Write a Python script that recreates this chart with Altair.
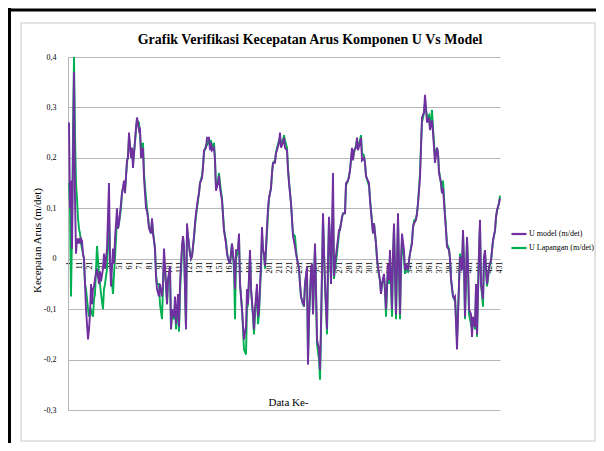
import altair as alt
import pandas as pd

idx = [1,2,3,4,5,6,7,8,9,10,11,12,13,14,15,16,17,18,19,20,21,22,23,24,25,26,27,29,31,32,33,35,36,37,39,41,42,43,45,46,47,49,50,51,53,54,56,57,59,60,61,63,64,65,67,68,69,71,72,73,75,76,78,79,80,81,83,84,85,87,88,89,91,92,94,95,96,98,99,100,102,103,104,106,107,108,110,111,112,114,115,116,118,119,120,122,123,124,126,127,128,130,131,132,134,135,136,138,139,141,142,143,144,146,147,148,150,151,152,154,155,156,158,159,160,162,163,164,166,167,168,170,171,172,174,175,176,178,179,180,182,183,185,186,187,189,190,191,193,194,195,196,197,199,200,201,203,204,205,207,208,209,211,212,213,215,216,217,219,220,221,223,224,225,227,228,229,231,232,233,235,236,237,239,240,241,243,244,245,247,248,249,251,252,253,255,256,257,259,260,261,262,263,265,266,267,269,270,271,272,274,275,277,278,280,281,282,284,285,286,288,289,290,292,293,294,296,297,298,300,301,302,304,305,306,308,309,310,312,313,314,316,317,318,320,321,322,324,325,326,328,329,330,332,333,334,336,337,338,340,341,342,344,345,346,348,349,350,352,353,354,356,357,358,359,361,362,364,365,366,367,369,370,371,373,374,375,377,378,379,381,382,383,385,386,387,389,391,392,394,395,396,397,399,400,401,403,404,405,407,408,409,411,412,413,415,416,417,419,420,421,423,424,425,427,428,429,431,432]

u_model = [0.27,0.10,0.155,0.02,0.20,0.37,0.12,0.01,0.04,0.03,0.04,0.03,0.04,0.035,0.01,0.0,-0.05,-0.10,-0.13,-0.16,-0.14,-0.11,-0.05,-0.09,-0.06,-0.055,-0.04,-0.02,-0.05,-0.025,-0.045,-0.02,0.01,-0.02,0.02,0.15,0.0,-0.055,0.02,-0.01,0.04,0.10,0.06,0.07,0.11,0.13,0.155,0.13,0.195,0.20,0.25,0.20,0.22,0.18,0.235,0.26,0.28,0.255,0.26,0.20,0.22,0.16,0.10,0.095,0.08,0.06,0.05,0.08,0.05,0.02,-0.035,-0.06,-0.075,-0.05,-0.075,-0.05,0.02,-0.05,-0.09,-0.04,-0.015,-0.14,-0.10,-0.115,-0.075,-0.13,-0.07,-0.135,-0.05,0.025,0.045,0.025,-0.14,0.07,0.045,0.01,0.0,0.005,0.045,0.07,0.09,0.12,0.13,0.15,0.16,0.18,0.215,0.22,0.24,0.24,0.215,0.23,0.215,0.22,0.195,0.135,0.15,0.165,0.14,0.115,0.085,0.055,0.03,0.01,0.0,-0.01,0.01,0.03,-0.01,-0.06,0.017,0.017,0.05,-0.05,-0.10,-0.13,-0.16,-0.135,-0.06,-0.09,0.017,-0.06,-0.11,-0.14,-0.10,-0.05,-0.115,-0.10,-0.01,0.063,0.017,0.01,-0.015,0.063,0.10,0.12,0.14,0.17,0.19,0.19,0.21,0.215,0.23,0.25,0.22,0.23,0.24,0.22,0.215,0.175,0.15,0.11,0.077,0.045,0.024,0.01,0.0,-0.02,-0.05,-0.075,-0.09,-0.092,-0.05,-0.016,-0.21,-0.115,-0.023,-0.01,-0.11,0.03,-0.06,-0.16,-0.18,-0.22,-0.13,0.09,0.017,-0.05,-0.14,-0.01,0.083,0.04,-0.05,0.17,-0.035,-0.01,0.024,0.04,0.057,0.057,0.083,0.09,0.09,0.15,0.155,0.162,0.175,0.22,0.195,0.215,0.22,0.24,0.215,0.23,0.24,0.195,0.2,0.19,0.163,0.155,0.15,0.115,0.07,0.05,0.07,0.03,0.0,-0.016,-0.043,-0.07,-0.05,-0.03,-0.062,-0.10,-0.01,-0.043,0.017,-0.10,0.01,0.07,-0.11,-0.01,0.09,-0.11,-0.01,0.05,0.017,-0.023,-0.01,-0.023,-0.003,0.01,0.03,0.063,0.07,0.077,0.09,0.11,0.16,0.22,0.28,0.29,0.325,0.30,0.27,0.28,0.255,0.275,0.25,0.22,0.19,0.22,0.21,0.17,0.15,0.13,0.14,0.083,0.057,0.024,0.017,0.0,-0.04,-0.075,-0.078,-0.075,-0.18,-0.05,0.004,-0.023,0.057,-0.01,-0.115,0.043,-0.01,-0.10,-0.11,-0.155,-0.115,-0.135,-0.05,-0.15,0.017,0.077,-0.05,-0.08,0.004,0.017,-0.05,-0.036,-0.016,-0.003,0.017,0.037,0.056,0.083,0.096,0.11,0.12]

u_lapangan = [0.15,0.10,-0.075,0.05,0.25,0.40,0.25,0.15,0.12,0.08,0.06,0.05,0.03,0.02,0.01,0.0,-0.05,-0.06,-0.08,-0.10,-0.115,-0.10,-0.10,-0.11,-0.115,-0.08,-0.07,0.025,-0.03,-0.05,-0.07,-0.10,-0.06,-0.05,-0.02,0.08,0.0,-0.03,-0.07,-0.03,0.0,0.08,0.06,0.07,0.10,0.13,0.15,0.135,0.19,0.205,0.24,0.21,0.22,0.19,0.23,0.255,0.275,0.27,0.25,0.215,0.23,0.17,0.12,0.10,0.085,0.065,0.05,0.075,0.055,0.02,-0.03,-0.05,-0.05,-0.09,-0.12,-0.06,0.0,-0.05,-0.09,-0.05,-0.02,-0.14,-0.11,-0.12,-0.09,-0.14,-0.09,-0.145,-0.07,0.02,0.04,0.02,-0.14,0.06,0.045,0.01,0.0,0.005,0.04,0.065,0.085,0.115,0.13,0.15,0.165,0.185,0.21,0.225,0.225,0.24,0.22,0.235,0.22,0.23,0.20,0.14,0.155,0.17,0.15,0.12,0.09,0.06,0.035,0.015,0.0,-0.01,0.01,0.03,-0.02,-0.12,0.0,0.015,0.045,-0.05,-0.10,-0.14,-0.18,-0.19,-0.10,-0.09,0.01,-0.06,-0.115,-0.15,-0.11,-0.06,-0.13,-0.11,-0.02,0.05,0.015,0.01,-0.02,0.05,0.09,0.12,0.14,0.17,0.19,0.195,0.21,0.22,0.235,0.24,0.23,0.235,0.245,0.235,0.22,0.18,0.155,0.11,0.08,0.05,0.045,0.02,0.0,-0.02,-0.05,-0.075,-0.09,-0.095,-0.05,-0.02,-0.20,-0.12,-0.03,-0.01,-0.11,0.025,-0.06,-0.17,-0.20,-0.24,-0.15,0.08,0.01,-0.05,-0.15,-0.02,0.075,0.035,-0.05,0.12,-0.04,-0.02,0.01,0.03,0.05,0.06,0.08,0.09,0.09,0.145,0.155,0.165,0.175,0.215,0.20,0.21,0.225,0.235,0.22,0.235,0.245,0.21,0.205,0.19,0.165,0.15,0.145,0.12,0.075,0.05,0.07,0.03,0.0,-0.02,-0.045,-0.07,-0.05,-0.035,-0.065,-0.115,-0.015,-0.05,0.01,-0.115,0.0,0.06,-0.12,-0.02,0.08,-0.12,-0.02,0.04,0.0,-0.03,-0.02,-0.025,-0.005,0.01,0.035,0.06,0.075,0.08,0.09,0.11,0.17,0.225,0.27,0.29,0.31,0.295,0.28,0.285,0.26,0.295,0.26,0.23,0.20,0.22,0.21,0.175,0.15,0.13,0.155,0.09,0.06,0.03,0.02,0.0,-0.04,-0.075,-0.08,-0.075,-0.16,-0.05,0.01,-0.02,0.05,-0.01,-0.12,0.04,-0.015,-0.11,-0.13,-0.14,-0.12,-0.14,-0.06,-0.155,0.01,0.07,-0.05,-0.095,0.0,0.01,-0.055,-0.04,-0.02,-0.005,0.015,0.035,0.055,0.08,0.095,0.11,0.125]

series_names = ["U model (m/det)", "U Lapangan (m/det)"]
series_colors = ["#7030A0", "#00B050"]
x_ticks = list(range(1, 432, 10))
y_ticks = [-0.3, -0.2, -0.1, 0, 0.1, 0.2, 0.3, 0.4]

n = len(idx)
df = pd.DataFrame({
    "i": idx + idx,
    "u": u_model + u_lapangan,
    "series": [series_names[0]] * n + [series_names[1]] * n,
})

FONT = "Liberation Serif"
W, H = 432, 353
PL, PT = 60, 49

color = alt.Color(
    "series:N",
    scale=alt.Scale(domain=series_names, range=series_colors),
    legend=alt.Legend(
        title=None, orient="none", legendX=442, legendY=168,
        symbolType="stroke", symbolSize=225, symbolStrokeWidth=2.2,
        labelFont=FONT, labelFontSize=8, labelColor="#000000",
        labelOffset=1, rowPadding=0, labelLimit=0,
    ),
)

x_enc = alt.X(
    "i:Q",
    scale=alt.Scale(domain=[0, 432], nice=False, zero=False),
    axis=alt.Axis(
        values=x_ticks, labelAngle=270, labelFont=FONT, labelFontSize=8,
        labelColor="#000000", labelPadding=2, ticks=False, grid=False,
        domainColor="#b7b7b7", offset=-151, labelOverlap=False,
        title="Data Ke-", titleFont=FONT, titleFontSize=11, titleFontWeight="normal",
        titleColor="#000000", titleX=220, titleY=137,
    ),
)
y_enc = alt.Y(
    "u:Q",
    scale=alt.Scale(domain=[-0.3, 0.4], nice=False, zero=False),
    axis=alt.Axis(
        values=y_ticks,
        labelExpr="datum.value == 0 ? '0' : replace(replace(format(datum.value, '.1f'), '.', ','), '\u2212', '-')",
        labelFont=FONT, labelFontSize=8, labelColor="#000000", labelPadding=12,
        ticks=False, grid=True, gridColor="#b7b7b7", gridWidth=1,
        domainColor="#b7b7b7",
        title="Kecepatan Arus (m/det)", titleFont=FONT, titleFontSize=11,
        titleFontWeight="normal", titleColor="#000000", titleX=-31, titleY=183,
        titleBaseline="middle",
    ),
)

base = alt.Chart(df)
green = base.transform_filter(alt.datum.series == series_names[1]).mark_line(strokeWidth=1.9).encode(
    x=x_enc, y=y_enc, color=color)
purple = base.transform_filter(alt.datum.series == series_names[0]).mark_line(strokeWidth=1.9).encode(
    x=x_enc, y=y_enc, color=color)

dummy = alt.Data(values=[{"k": 1}])
frame = alt.Chart(dummy).mark_rect(fill=None, stroke="#c8c8c8", strokeWidth=1).encode(
    x=alt.value(-47), x2=alt.value(527), y=alt.value(-34), y2=alt.value(384))
black_top = alt.Chart(dummy).mark_rule(stroke="#000000", strokeWidth=3).encode(
    x=alt.value(-PL), x2=alt.value(528), y=alt.value(-PT + 2))
black_left = alt.Chart(dummy).mark_rule(stroke="#000000", strokeWidth=3).encode(
    x=alt.value(-PL + 1.5), y=alt.value(-PT), y2=alt.value(H + 33))

chart = alt.layer(frame, black_top, black_left, green, purple).properties(
    width=W, height=H,
    autosize=alt.AutoSizeParams(type="none"),
    padding={"left": PL, "top": PT, "right": 96, "bottom": 33},
    title=alt.TitleParams(
        "Grafik Verifikasi Kecepatan Arus Komponen U Vs Model",
        font=FONT, fontSize=14, fontWeight="bold", color="#000000",
        anchor="middle", dx=26, dy=48, offset=8,
    ),
    background="#ffffff",
).configure_view(stroke=None)

chart.save("out.html", embed_options={"renderer": "svg", "actions": False})
